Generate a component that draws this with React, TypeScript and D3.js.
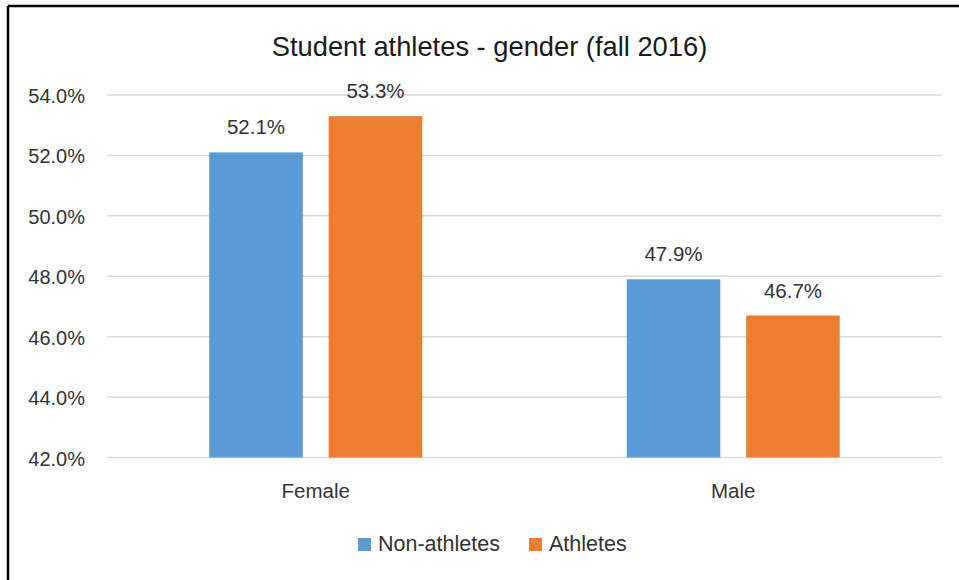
import React from 'react';
import * as d3 from 'd3';

const categories = ['Female', 'Male'];
const series = ['Non-athletes', 'Athletes'];
const nonAthletes = [52.1, 47.9];
const athletes = [53.3, 46.7];
const yTicks = [42, 44, 46, 48, 50, 52, 54];
const colors = ['#5B9BD5', '#ED7D31'];

const W = 959;
const H = 580;
const margin = { top: 95, right: 17, bottom: 122, left: 107 };
const font = '"Liberation Sans", Arial, sans-serif';
const textColor = '#333333';

const App: React.FC = () => {
    const values = [nonAthletes, athletes];

    const x = d3
        .scaleBand<string>()
        .domain(categories)
        .range([margin.left, W - margin.right])
        .paddingInner(0);

    const groupWidth = 213;
    const xs = d3
        .scaleBand<string>()
        .domain(series)
        .range([(x.bandwidth() - groupWidth) / 2, (x.bandwidth() + groupWidth) / 2])
        .paddingInner(0.2167);

    const y = d3
        .scaleLinear()
        .domain([42, 54])
        .range([H - margin.bottom - 0.5, margin.top]);

    const fmt = d3.format('.1f');

    return (
        <div style={{ position: 'fixed', left: 0, top: 0 }}>
            <svg width={W} height={H} style={{ display: 'block', background: '#fff' }}>
                {/* frame (only top and left visible) */}
                <line x1={8} y1={6} x2={W} y2={6} stroke="#000" strokeWidth={2.5} />
                <line x1={8} y1={6} x2={8} y2={H} stroke="#000" strokeWidth={2.5} />

                {/* title */}
                <text
                    x={489.5}
                    y={56}
                    textAnchor="middle"
                    fontFamily={font}
                    fontSize={27.3}
                    fill="#1a1a1a"
                >
                    Student athletes - gender (fall 2016)
                </text>

                {/* gridlines + y ticks */}
                {yTicks.map(t => (
                    <g key={t}>
                        <line
                            x1={margin.left}
                            x2={W - margin.right}
                            y1={y(t)}
                            y2={y(t)}
                            stroke="#D9D9D9"
                            strokeWidth={1.5}
                        />
                        <text
                            x={85}
                            y={y(t) + 8}
                            textAnchor="end"
                            fontFamily={font}
                            fontSize={20}
                            fill={textColor}
                        >
                            {fmt(t)}%
                        </text>
                    </g>
                ))}

                {/* bars */}
                {categories.map((c, ci) => (
                    <g key={c} transform={`translate(${x(c)},0)`}>
                        {series.map((s, si) => {
                            const v = values[si][ci];
                            const bx = xs(s) as number;
                            return (
                                <g key={s}>
                                    <rect
                                        x={bx}
                                        y={y(v)}
                                        width={xs.bandwidth()}
                                        height={y(42) - y(v)}
                                        fill={colors[si]}
                                    />
                                    <text
                                        x={bx + xs.bandwidth() / 2}
                                        y={y(v) - 18}
                                        textAnchor="middle"
                                        fontFamily={font}
                                        fontSize={20.5}
                                        fill={textColor}
                                    >
                                        {fmt(v)}%
                                    </text>
                                </g>
                            );
                        })}
                        <text
                            x={x.bandwidth() / 2}
                            y={498}
                            textAnchor="middle"
                            fontFamily={font}
                            fontSize={20.5}
                            fill={textColor}
                        >
                            {c}
                        </text>
                    </g>
                ))}

                {/* legend */}
                {series.map((s, si) => {
                    const lx = si === 0 ? 358 : 529;
                    return (
                        <g key={s}>
                            <rect x={lx} y={538} width={13} height={13} fill={colors[si]} />
                            <text x={lx + 20} y={551} fontFamily={font} fontSize={21.5} fill={textColor}>
                                {s}
                            </text>
                        </g>
                    );
                })}
            </svg>
        </div>
    );
};

export default App;
